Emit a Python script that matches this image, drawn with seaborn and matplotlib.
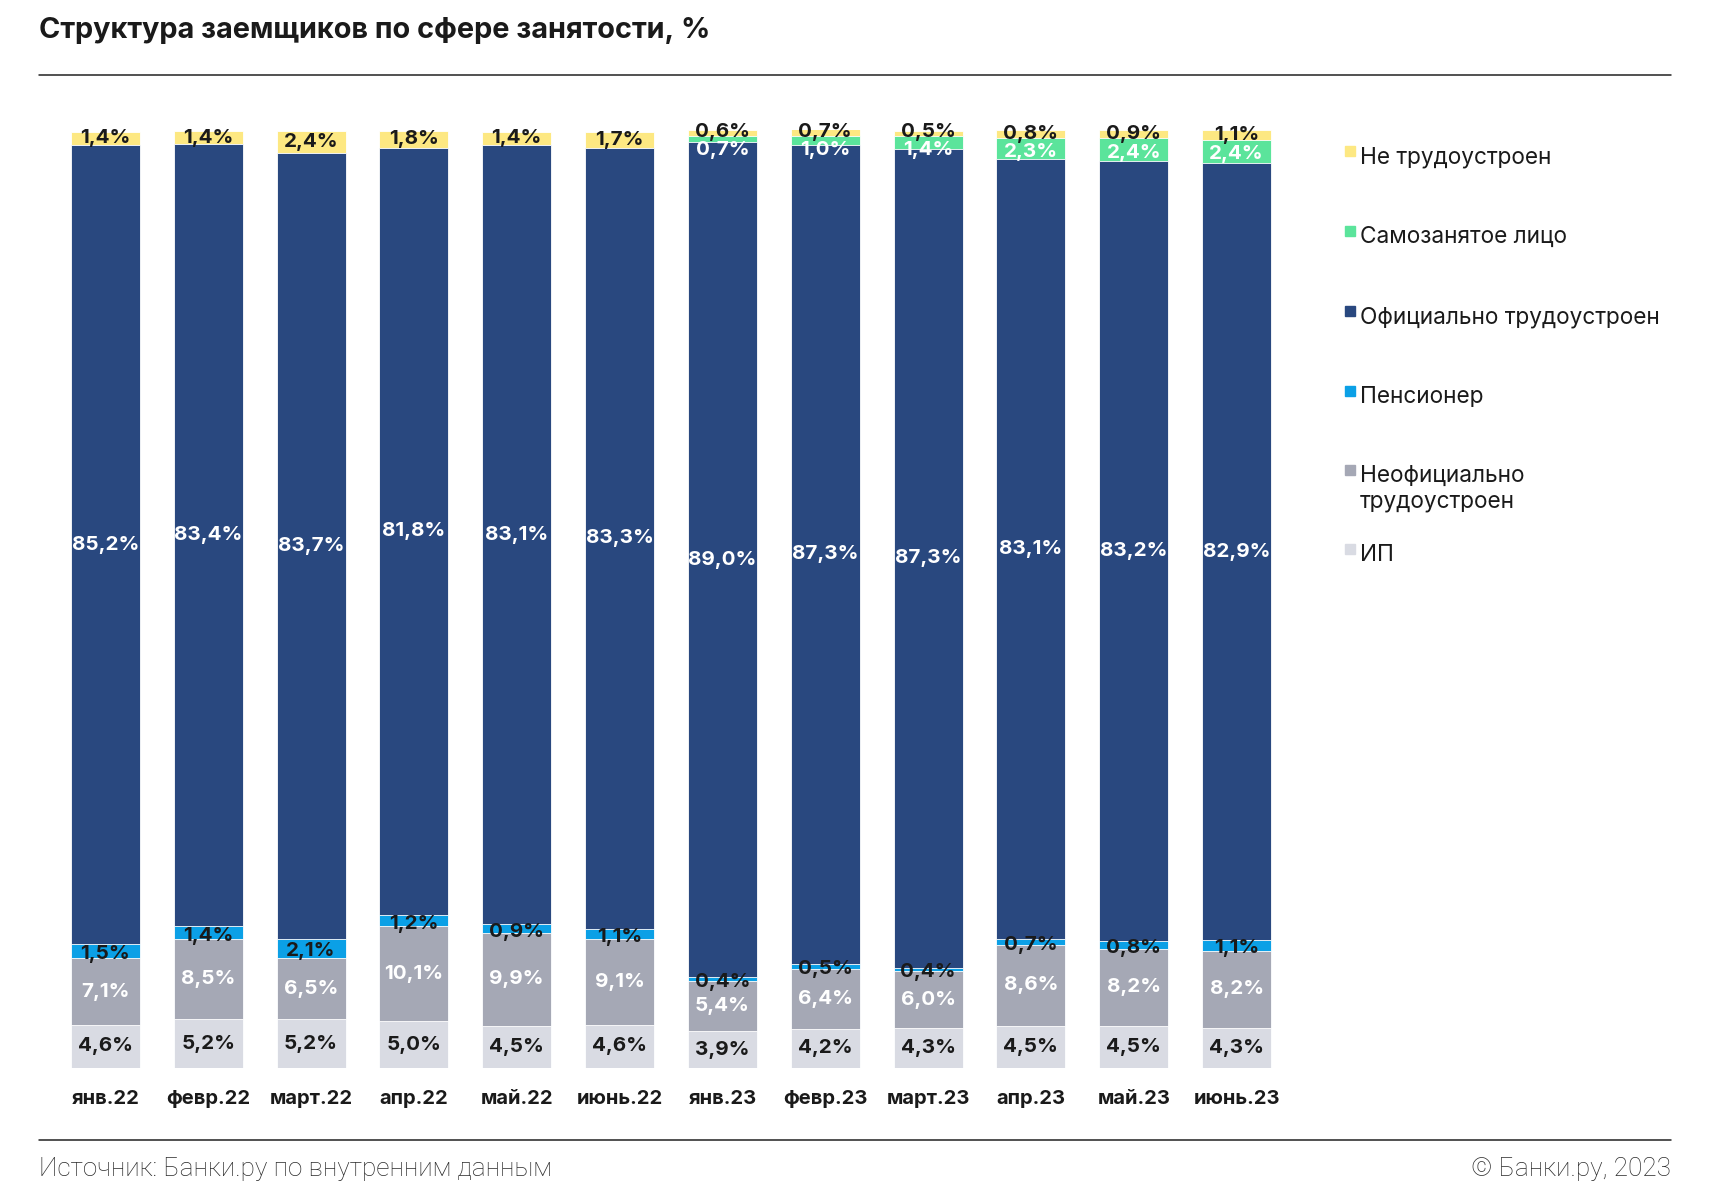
import numpy as np
import pandas as pd
import matplotlib
matplotlib.use("Agg")
import matplotlib.pyplot as plt
from matplotlib.patches import Rectangle
from matplotlib.lines import Line2D
import seaborn as sns

# ---------------- data ----------------
categories = ["янв.22", "февр.22", "март.22", "апр.22", "май.22", "июнь.22",
              "янв.23", "февр.23", "март.23", "апр.23", "май.23", "июнь.23"]
ip = [4.6, 5.2, 5.2, 5.0, 4.5, 4.6, 3.9, 4.2, 4.3, 4.5, 4.5, 4.3]
unofficial = [7.1, 8.5, 6.5, 10.1, 9.9, 9.1, 5.4, 6.4, 6.0, 8.6, 8.2, 8.2]
pensioner = [1.5, 1.4, 2.1, 1.2, 0.9, 1.1, 0.4, 0.5, 0.4, 0.7, 0.8, 1.1]
official = [85.2, 83.4, 83.7, 81.8, 83.1, 83.3, 89.0, 87.3, 87.3, 83.1, 83.2, 82.9]
self_employed = [0, 0, 0, 0, 0, 0, 0.7, 1.0, 1.4, 2.3, 2.4, 2.4]
unemployed = [1.4, 1.4, 2.4, 1.8, 1.4, 1.7, 0.6, 0.7, 0.5, 0.8, 0.9, 1.1]

series_names = ["ИП", "Неофициально трудоустроен", "Пенсионер",
                "Официально трудоустроен", "Самозанятое лицо", "Не трудоустроен"]
series_values = [ip, unofficial, pensioner, official, self_employed, unemployed]
series_colors = ["#D9DBE3", "#A5A8B5", "#0BA0E6", "#29487F", "#5BE49B", "#FDE882"]
label_colors = ["#1a1a1a", "white", "#1a1a1a", "white", "white", "#1a1a1a"]

legend_items = [("Не трудоустроен",), ("Самозанятое лицо",), ("Официально трудоустроен",),
                ("Пенсионер",), ("Неофициально", "трудоустроен"), ("ИП",)]
legend_colors = ["#FDE882", "#5BE49B", "#29487F", "#0BA0E6", "#A5A8B5", "#D9DBE3"]

title = "Структура заемщиков по сфере занятости, %"
source = "Источник: Банки.ру по внутренним данным"
copyright_text = "© Банки.ру, 2023"

# ---------------- style ----------------
sns.set_theme(style="white")
plt.rcParams["font.family"] = ["Inter", "DejaVu Sans"]
DARK = "#1a1a1a"

W, H = 1712, 1200
fig = plt.figure(figsize=(W / 100, H / 100), dpi=100)
fx = lambda px: px / W
fy = lambda py: 1 - py / H

ax = fig.add_axes([fx(54), fy(1068), (1288 - 54) / W, (1068 - 130) / H])

df = pd.DataFrame({"cat": categories})
vals = np.array(series_values, dtype=float)
cum = np.cumsum(vals, axis=0)

# draw cumulative bars from top layer to bottom layer (overlay = stacked)
for i in range(len(series_names) - 1, -1, -1):
    df["v"] = cum[i]
    sns.barplot(data=df, x="cat", y="v", order=categories, color=series_colors[i],
                saturation=1, width=0.67, errorbar=None, edgecolor="white",
                linewidth=0.6, ax=ax)

ax.set_xlim(-0.5, len(categories) - 0.5)
ax.set_ylim(0, 100)
ax.set_xlabel("")
ax.set_ylabel("")
ax.set_yticks([])
for s in ax.spines.values():
    s.set_visible(False)
ax.tick_params(axis="x", length=0, pad=16)
for t in ax.get_xticklabels():
    t.set_fontsize(14.5)
    t.set_fontweight("bold")
    t.set_color(DARK)

fmt = lambda v: f"{v:.1f}".replace(".", ",") + "%"

for i in range(len(series_names)):
    for j in range(len(categories)):
        v = vals[i, j]
        if v <= 0:
            continue
        top = cum[i, j]
        bottom = top - v
        center = (top + bottom) / 2
        y = center
        if series_names[i] == "Пенсионер":
            y = center - 0.3
        elif series_names[i] == "Самозанятое лицо":
            y = min(center, top - 1.5)
        elif series_names[i] == "Не трудоустроен":
            y = max(center, bottom + 0.4)
        ax.text(j, y, fmt(v), ha="center", va="center", fontsize=14.8,
                fontweight="bold", color=label_colors[i], clip_on=False, zorder=5)

# ---------------- title, rules, footer ----------------
fig.text(fx(39), fy(31), title, ha="left", va="center", fontsize=20.8,
         fontweight="bold", color=DARK)
fig.add_artist(Line2D([fx(39), fx(1671)], [fy(75), fy(75)], color="#222222", lw=1.1))
fig.add_artist(Line2D([fx(39), fx(1671)], [fy(1140), fy(1140)], color="#222222", lw=1.1))
fig.text(fx(39), fy(1169), source, ha="left", va="center", fontsize=18.8,
         color="#2a2a2a", family=["Roboto", "DejaVu Sans"], fontweight="light")
fig.text(fx(1671), fy(1169), copyright_text, ha="right", va="center", fontsize=18.8,
         color="#2a2a2a", family=["Roboto", "DejaVu Sans"], fontweight="light")

# ---------------- legend ----------------
legend_y = [157, 237, 317, 397, 476, 555]
for lines, col, yc in zip(legend_items, legend_colors, legend_y):
    fig.add_artist(Rectangle((fx(1345), fy(yc - 1)), 10 / W, 10 / H, color=col,
                             transform=fig.transFigure))
    for k, line in enumerate(lines):
        fig.text(fx(1360), fy(yc + 26 * k), line, ha="left", va="center",
                 fontsize=16.3, color=DARK)

fig.savefig("out.png", dpi=100, facecolor="white")
